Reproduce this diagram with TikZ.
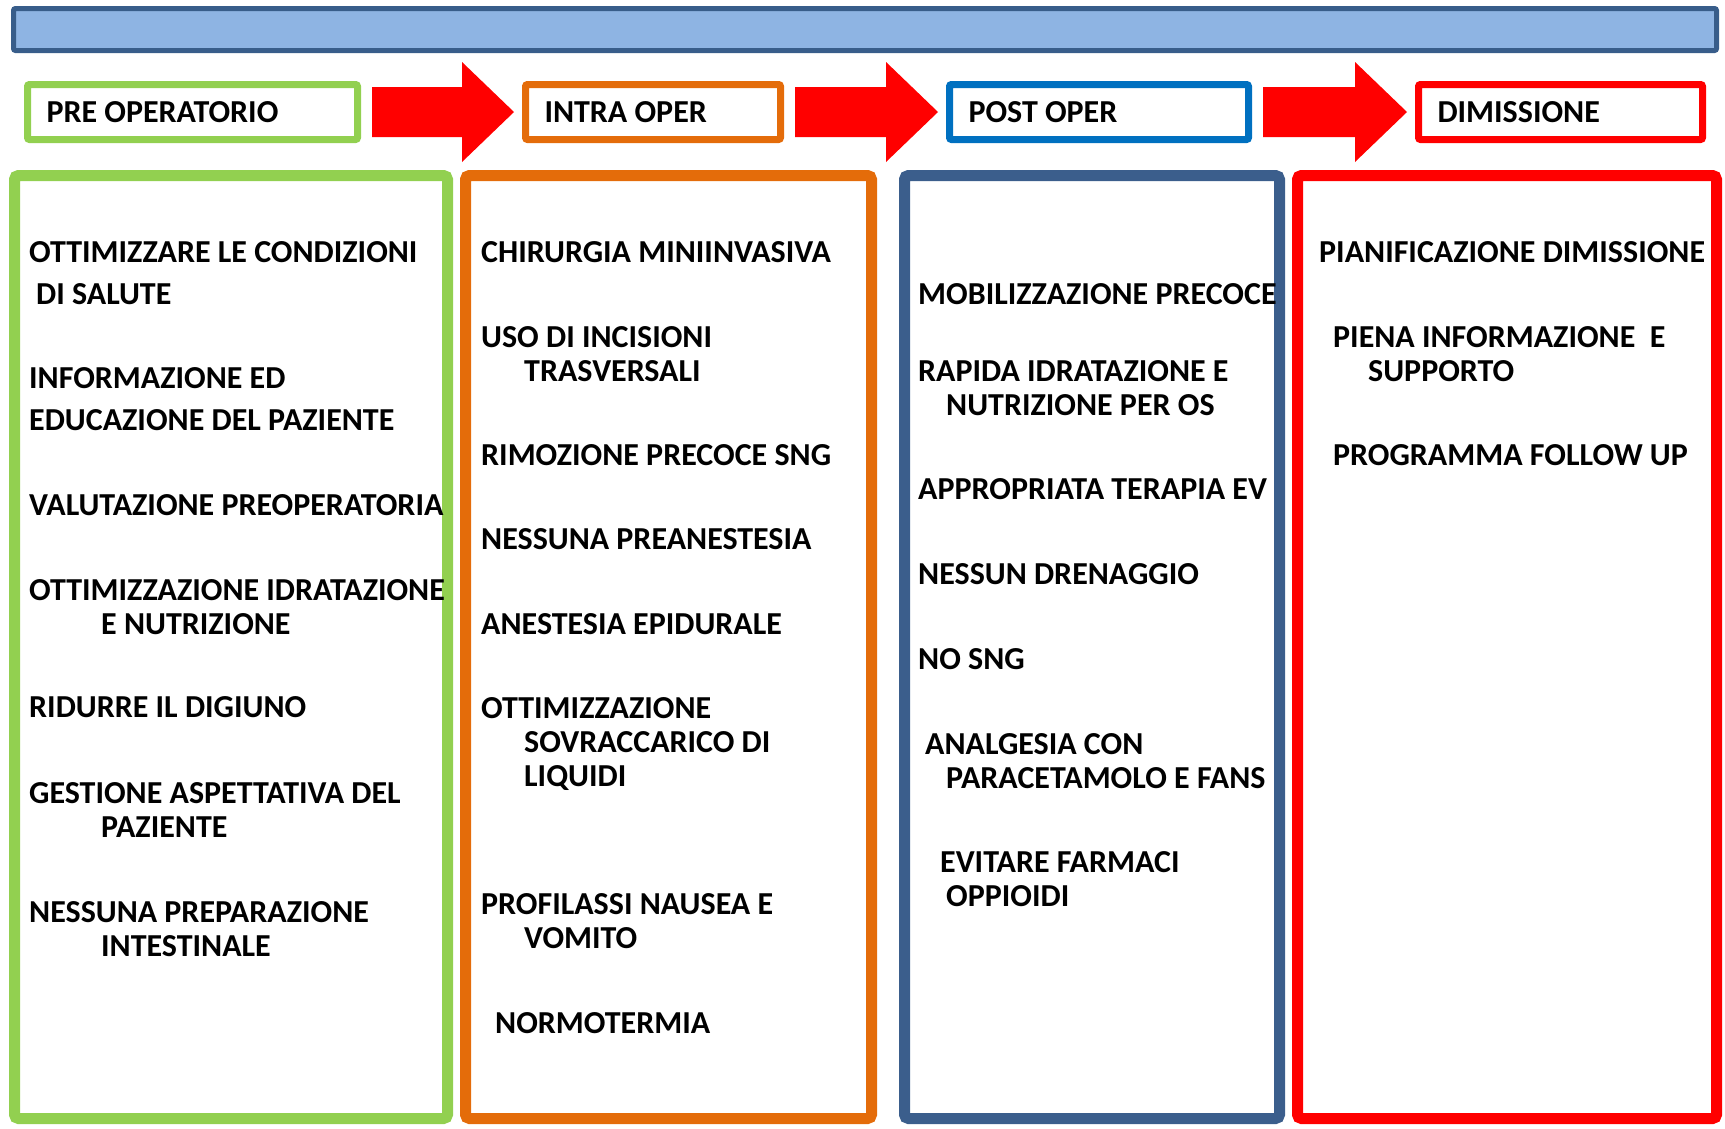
\documentclass[tikz,border=0pt]{standalone}
\usepackage{fontspec}
\setmainfont{Carlito}
\usetikzlibrary{calc}

\definecolor{barfill}{HTML}{8EB4E3}
\definecolor{bardraw}{HTML}{385D8A}
\definecolor{pregreen}{HTML}{92D050}
\definecolor{intraorange}{HTML}{E46C0A}
\definecolor{postblue}{HTML}{0070C0}
\definecolor{postdark}{HTML}{3B5E8C}
\definecolor{dimred}{HTML}{FF0000}

\newcommand{\hdrtext}[2]{\makebox[#1][l]{#2}}

\begin{document}
\begin{tikzpicture}[x=1pt, y=-1pt]
          \tikzstyle{hdr}=[rectangle, line width=7pt, rounded corners=2pt, minimum height=55pt, inner xsep=19pt, inner ysep=0pt, font=\bfseries\fontsize{32}{34}\selectfont]
          \tikzstyle{col}=[rectangle, line width=11pt, rounded corners=4pt, minimum height=943pt]
          \tikzstyle{item}=[anchor=north west, inner sep=0pt, align=left, font=\bfseries\fontsize{32}{34}\selectfont]

          \useasboundingbox (0,0) rectangle (1725,1128);

          \node[rectangle, draw=bardraw, fill=barfill, line width=5pt, rounded corners=2pt, minimum width=1703pt, minimum height=42pt] at (865,29.5) (titlebar) {};

          % fasi
          \node[hdr, draw=pregreen] at (192.5,112) (pre) {\hdrtext{292pt}{PRE OPERATORIO}};
          \node[hdr, draw=intraorange] at (653,112) (intra) {\hdrtext{217pt}{INTRA OPER}};
          \node[hdr, draw=postblue] at (1099,112) (post) {\hdrtext{261pt}{POST OPER}};
          \node[hdr, draw=dimred] at (1560.5,112) (dim) {\hdrtext{246pt}{DIMISSIONE}};

          \foreach \a/\b in {pre/intra, intra/post, post/dim}
            \fill[dimred] ($(\a.east)+(11,-25)$) -- ($(\b.west)+(-60,-25)$) -- ($(\b.west)+(-60,-50)$)
              -- ($(\b.west)+(-8,0)$) -- ($(\b.west)+(-60,50)$) -- ($(\b.west)+(-60,25)$) -- ($(\a.east)+(11,25)$) -- cycle;

          % colonne
          \node[col, draw=pregreen, minimum width=433pt] at (231,647) (colpre) {};
          \node[col, draw=intraorange, minimum width=406pt] at (668.5,647) (colintra) {};
          \node[col, draw=postdark, minimum width=375pt] at (1092,647) (colpost) {};
          \node[col, draw=dimred, minimum width=419pt] at (1507,647) (coldim) {};

          % pre operatorio
          \node[item] at (29,241) (pre1) {OTTIMIZZARE LE CONDIZIONI\\[8pt]\hspace*{7pt}DI SALUTE};
          \node[item] at (29,367) (pre2) {INFORMAZIONE ED\\[8pt]EDUCAZIONE DEL PAZIENTE};
          \node[item] at (29,494) (pre3) {VALUTAZIONE PREOPERATORIA};
          \node[item] at (29,579) (pre4) {OTTIMIZZAZIONE IDRATAZIONE\\\hspace*{72pt}E NUTRIZIONE};
          \node[item] at (29,696) (pre5) {RIDURRE IL DIGIUNO};
          \node[item] at (29,782) (pre6) {GESTIONE ASPETTATIVA DEL\\\hspace*{72pt}PAZIENTE};
          \node[item] at (29,901) (pre7) {NESSUNA PREPARAZIONE\\\hspace*{72pt}INTESTINALE};

          % intra operatorio
          \node[item] at (481,241) (intra1) {CHIRURGIA MINIINVASIVA};
          \node[item] at (481,326) (intra2) {USO DI INCISIONI\\\hspace*{43pt}TRASVERSALI};
          \node[item] at (481,444) (intra3) {RIMOZIONE PRECOCE SNG};
          \node[item] at (481,528) (intra4) {NESSUNA PREANESTESIA};
          \node[item] at (481,613) (intra5) {ANESTESIA EPIDURALE};
          \node[item] at (481,697) (intra6) {OTTIMIZZAZIONE\\\hspace*{43pt}SOVRACCARICO DI\\\hspace*{43pt}LIQUIDI};
          \node[item] at (481,893) (intra7) {PROFILASSI NAUSEA E\\\hspace*{43pt}VOMITO};
          \node[item] at (495,1012) (intra8) {NORMOTERMIA};

          % post operatorio
          \node[item] at (918,283) (post1) {MOBILIZZAZIONE PRECOCE};
          \node[item] at (918,360) (post2) {RAPIDA IDRATAZIONE E\\\hspace*{28pt}NUTRIZIONE PER OS};
          \node[item] at (918,478) (post3) {APPROPRIATA TERAPIA EV};
          \node[item] at (918,563) (post4) {NESSUN DRENAGGIO};
          \node[item] at (918,648) (post5) {NO SNG};
          \node[item] at (925,733) (post6) {ANALGESIA CON\\\hspace*{21pt}PARACETAMOLO E FANS};
          \node[item] at (940,851) (post7) {EVITARE FARMACI\\\hspace*{6pt}OPPIOIDI};

          % dimissione
          \node[item] at (1319,241) (dim1) {PIANIFICAZIONE DIMISSIONE};
          \node[item] at (1333,326) (dim2) {PIENA INFORMAZIONE\ \ E\\\hspace*{35pt}SUPPORTO};
          \node[item] at (1333,444) (dim3) {PROGRAMMA FOLLOW UP};

        \end{tikzpicture}
\end{document}
